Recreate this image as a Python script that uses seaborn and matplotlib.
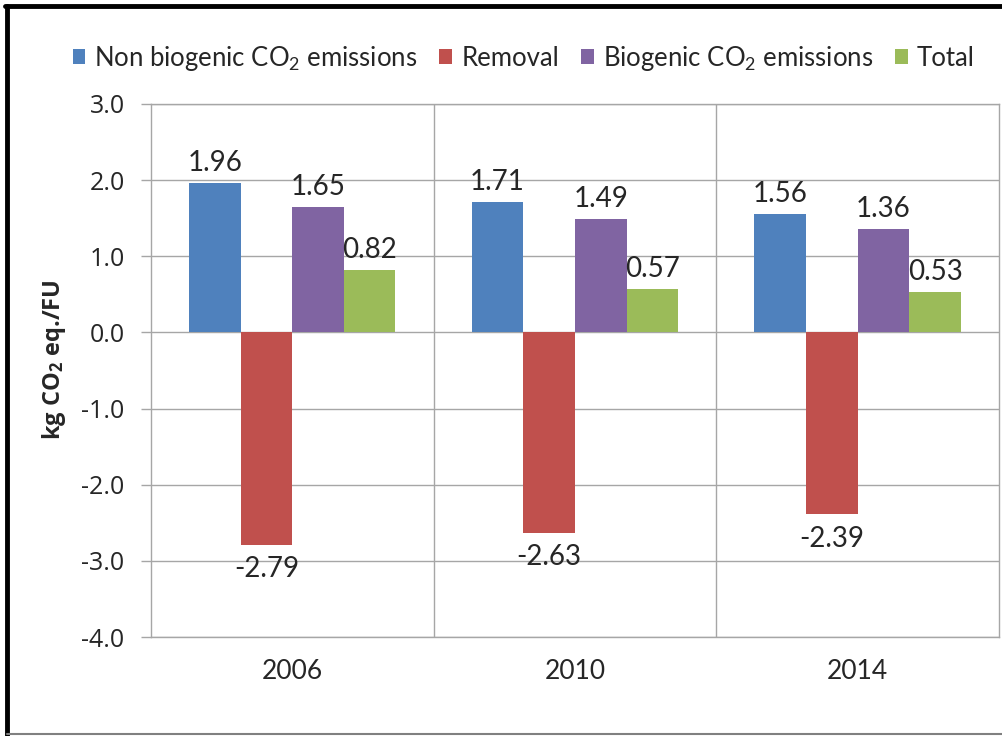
import pandas as pd
import matplotlib.pyplot as plt
import seaborn as sns
from matplotlib.lines import Line2D
from matplotlib.ticker import FixedLocator

# values
years = ['2006', '2010', '2014']
series = ['Non biogenic CO$_2$ emissions', 'Removal', 'Biogenic CO$_2$ emissions', 'Total']
non_biogenic = [1.96, 1.71, 1.56]
removal = [-2.79, -2.63, -2.39]
biogenic = [1.65, 1.49, 1.36]
total = [0.82, 0.57, 0.53]
colors = ['#4F81BD', '#C0504D', '#8064A2', '#9BBB59']

rows = []
for name, vals in zip(series, [non_biogenic, removal, biogenic, total]):
    for yr, v in zip(years, vals):
        rows.append({'year': yr, 'series': name, 'value': v})
df = pd.DataFrame(rows)

sns.set_style('white')
plt.rcParams['font.family'] = ['Lato', 'DejaVu Sans']
plt.rcParams['mathtext.default'] = 'regular'

fig = plt.figure(figsize=(10.03, 7.36), dpi=100)
ax = fig.add_axes([0.1505, 0.1345, 0.8455, 0.7242])

sns.barplot(data=df, x='year', y='value', hue='series', palette=colors,
            width=0.73, gap=0, saturation=1, ax=ax, zorder=3, linewidth=0)

grid_c = '#A6A6A6'
ax.set_ylim(-4, 3)
ax.set_xlim(-0.5, 2.5)
ax.set_yticks([-4, -3, -2, -1, 0, 1, 2, 3])
ax.set_yticklabels([f'{v:.1f}' for v in [-4, -3, -2, -1, 0, 1, 2, 3]],
                   fontfamily='Open Sans', fontsize=18)
ax.xaxis.set_minor_locator(FixedLocator([0.5, 1.5]))
ax.grid(axis='y', which='major', color=grid_c, lw=1, zorder=0)
ax.grid(axis='x', which='minor', color=grid_c, lw=1, zorder=0)
ax.tick_params(axis='y', which='major', length=7, color=grid_c, width=1, pad=12, left=True)
ax.tick_params(axis='x', which='both', length=0, labelsize=19, pad=16)
for s in ax.spines.values():
    s.set_color(grid_c)
    s.set_linewidth(1)

ax.set_xlabel('')
ax.set_ylabel('kg CO$_2$ eq./FU', fontfamily='Open Sans', fontweight='bold', fontsize=17)
ax.yaxis.set_label_coords(-0.098, 0.52)

for i, cont in enumerate(ax.containers):
    pad = 8 if i == 1 else 5
    ax.bar_label(cont, fmt='%.2f', padding=pad, fontsize=20)

handles, labels = ax.get_legend_handles_labels()
ax.get_legend().remove()
fig.legend(handles, labels, loc='center', bbox_to_anchor=(0.522, 0.921), ncol=4,
           frameon=False, fontsize=18.5, handlelength=0.5, handleheight=0.5,
           handletextpad=0.35, columnspacing=0.85)

# outer frame like the original screenshot
fig.add_artist(Line2D([0.0065, 0.0065], [0, 0.9915], color='black', lw=3.5,
                      transform=fig.transFigure))
fig.add_artist(Line2D([0.0048, 1], [0.9915, 0.9915], color='black', lw=3.5,
                      transform=fig.transFigure))
fig.add_artist(Line2D([0.0065, 1], [0.003, 0.003], color='#808080', lw=1.5,
                      transform=fig.transFigure))

fig.savefig('out.png', dpi=100)
